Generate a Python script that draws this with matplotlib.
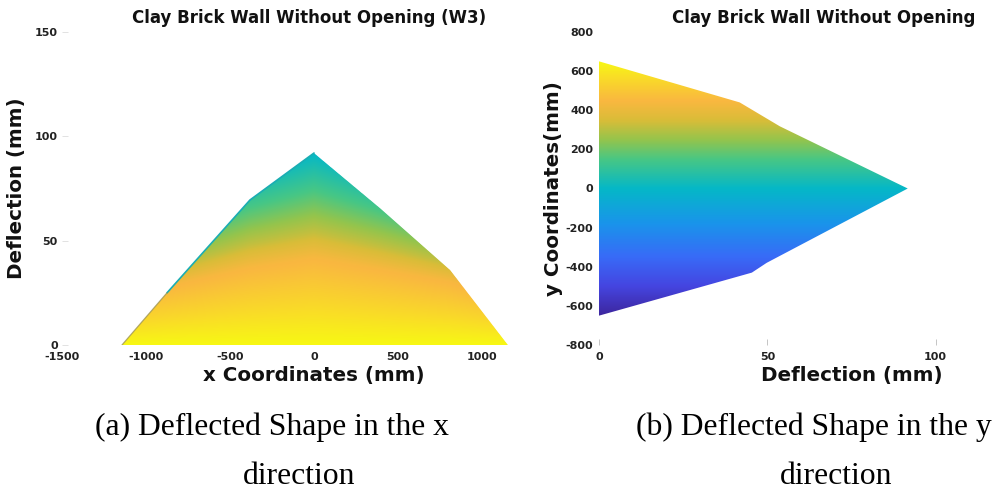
import numpy as np
import matplotlib.pyplot as plt
from matplotlib.colors import LinearSegmentedColormap, Normalize
from matplotlib.patches import Polygon

# deflected shape along x (section through y = 0)
x_coords = [-1143, -875, -381, 0, 393, 810, 1155]
x_defl = [0, 25, 69.5, 92, 65.6, 36, 0]

# deflected shape along y (section through x = 0)
y_coords = [650, 440, 318, 0, -380, -430, -650]
y_defl = [0, 41.8, 53.7, 91.7, 49.8, 45.4, 0]

x_ticks = [-1500, -1000, -500, 0, 500, 1000]
defl_ticks_a = [0, 50, 100, 150]
y_ticks = [-800, -600, -400, -200, 0, 200, 400, 600, 800]
defl_ticks_b = [0, 50, 100]

title_a = "Clay Brick Wall Without Opening (W3)"
title_b = "Clay Brick Wall Without Opening"
caption_a = ["(a) Deflected Shape in the x", "direction"]
caption_b = ["(b) Deflected Shape in the y", "direction"]

# parula-like map, tuned to the picture
parula = LinearSegmentedColormap.from_list("parula_like", [
    (0.000, (0.24, 0.15, 0.62)),
    (0.115, (0.27, 0.27, 0.88)),
    (0.231, (0.22, 0.42, 0.97)),
    (0.362, (0.10, 0.58, 0.92)),
    (0.500, (0.02, 0.72, 0.78)),
    (0.615, (0.28, 0.78, 0.52)),
    (0.692, (0.58, 0.77, 0.30)),
    (0.769, (0.85, 0.74, 0.22)),
    (0.846, (0.98, 0.72, 0.25)),
    (0.923, (0.98, 0.84, 0.17)),
    (1.000, (0.97, 0.97, 0.08)),
])
norm = Normalize(vmin=min(y_coords), vmax=max(y_coords))

W, H = 998, 498
fig = plt.figure(figsize=(W / 100, H / 100), dpi=100)
ax1 = fig.add_axes([62 / W, 153 / H, 504 / W, 313 / H])
ax2 = fig.add_axes([599 / W, 153 / H, 505 / W, 313 / H])
ax2.set_facecolor('none')

tick_font = dict(fontsize=8, fontweight='bold', color='#222222')
label_font = dict(fontsize=14.3, fontweight='bold', color='#111111')

for ax in (ax1, ax2):
    for s in ax.spines.values():
        s.set_visible(False)
    ax.set_axisbelow(True)
    ax.tick_params(direction='in', length=4, width=0.6, color='#dddddd', pad=3)

# ---- (a) wall surface seen along y: colour = y of the section in front
peak = max(y_defl)
pos = [i for i in range(len(y_coords)) if y_coords[i] >= 0]
order = np.argsort([y_defl[i] for i in pos])
d_sec = np.array([y_defl[pos[i]] for i in order])
y_sec = np.array([y_coords[pos[i]] for i in order])

xs = np.linspace(-1200, 1200, 900)
ds = np.linspace(0, 95, 500)
XX, DD = np.meshgrid(xs, ds)
prof = np.interp(XX, x_coords, x_defl, left=0, right=0)
# sections away from the centre are flatter than the centre section
flat = 0.55 + 0.45 * prof / max(x_defl)
yv = np.interp(DD / flat, d_sec, y_sec)
rgba = parula(norm(yv))
rgba[DD > prof, 3] = 0

im1 = ax1.imshow(rgba, extent=(xs[0], xs[-1], ds[0], ds[-1]), origin='lower',
                 aspect='auto', interpolation='bilinear', zorder=1)
clip1 = Polygon(list(zip(x_coords, x_defl)), closed=True, transform=ax1.transData)
im1.set_clip_path(clip1)
# thin edge of the back half of the wall showing on the left slope
ax1.plot(x_coords[1:4], x_defl[1:4], color=(0.10, 0.68, 0.70), lw=1.2, zorder=2,
         solid_capstyle='round')
ax1.plot(x_coords[0:2], x_defl[0:2], color=(0.62, 0.58, 0.30), lw=0.9, zorder=2,
         alpha=0.8, solid_capstyle='round')

ax1.set_xlim(-1500, 1500)
ax1.set_ylim(0, 150)
ax1.set_xticks(x_ticks)
ax1.set_yticks(defl_ticks_a)
ax1.set_xticklabels([str(v) for v in x_ticks], **tick_font)
ax1.set_yticklabels([str(v) for v in defl_ticks_a], **tick_font)
ax1.tick_params(axis='x', length=0, pad=5)
ax1.set_xlabel("x Coordinates (mm)", labelpad=3, **label_font)
ax1.set_ylabel("Deflection (mm)", labelpad=6, **label_font)

# ---- (b) section along y, coloured by y
yy = np.linspace(min(y_coords), max(y_coords), 400).reshape(-1, 1)
im2 = ax2.imshow(yy, extent=(0, max(y_defl), min(y_coords), max(y_coords)),
                 origin='lower', aspect='auto', cmap=parula, norm=norm,
                 interpolation='bilinear', zorder=1)
clip2 = Polygon(list(zip(y_defl, y_coords)), closed=True, transform=ax2.transData)
im2.set_clip_path(clip2)

ax2.set_xlim(0, 150)
ax2.set_ylim(-800, 800)
ax2.set_xticks(defl_ticks_b)
ax2.set_yticks(y_ticks)
ax2.set_xticklabels([str(v) for v in defl_ticks_b], **tick_font)
ax2.set_yticklabels([str(v) for v in y_ticks], **tick_font)
ax2.tick_params(axis='x', pad=5, color='#bbbbbb')
ax2.tick_params(axis='y', length=0, pad=4)
ax2.set_xlabel("Deflection (mm)", labelpad=3, **label_font)
ax2.set_ylabel("y Coordinates(mm)", labelpad=2, **label_font)

# titles
fig.text(309 / W, 1 - 18 / H, title_a, ha='center', va='center',
         fontsize=12, fontweight='bold', color='#111111')
fig.text(824 / W, 1 - 18 / H, title_b, ha='center', va='center',
         fontsize=12, fontweight='bold', color='#111111')

# captions
cap = dict(family='Liberation Serif', fontsize=22.8, color='black', va='center')
fig.text(95 / W, 1 - 427 / H, caption_a[0], ha='left', **cap)
fig.text(299 / W, 1 - 476 / H, caption_a[1], ha='center', **cap)
fig.text(636 / W, 1 - 427 / H, caption_b[0], ha='left', **cap)
fig.text(836 / W, 1 - 476 / H, caption_b[1], ha='center', **cap)

fig.savefig("out.png", dpi=100)
